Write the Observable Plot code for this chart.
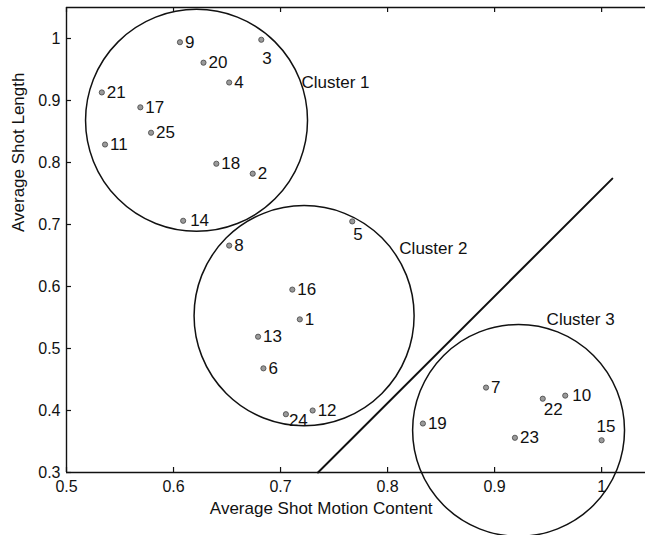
<!DOCTYPE html>
<html>
<head>
<meta charset="utf-8">
<script src="https://cdn.jsdelivr.net/npm/d3@7"></script>
<script src="https://cdn.jsdelivr.net/npm/@observablehq/plot@0.6"></script>
<style>
html, body { margin: 0; padding: 0; background: #fff; overflow: hidden; }
#chart svg { display: block; }
</style>
</head>
<body>
<div id="chart"></div>
<script>
// ---- data ----
const shotIds = [1,2,3,4,5,6,7,8,9,10,11,12,13,14,15,16,17,18,19,20,21,22,23,24,25];
const shotMotion = [0.718,0.674,0.682,0.652,0.767,0.684,0.892,0.652,0.606,0.966,0.536,0.730,0.679,0.609,1.000,0.711,0.569,0.640,0.833,0.628,0.533,0.945,0.919,0.705,0.579];
const shotLength = [0.547,0.782,0.998,0.929,0.705,0.468,0.437,0.666,0.994,0.424,0.829,0.400,0.519,0.706,0.352,0.595,0.889,0.798,0.379,0.961,0.913,0.419,0.356,0.394,0.848];

const clusterNames = ["Cluster 1", "Cluster 2", "Cluster 3"];
const clusterCenterX = [0.6215, 0.722, 0.9224];
const clusterCenterY = [0.868, 0.553, 0.368];
const clusterRadius = [0.1037, 0.1028, 0.099]; // in x-axis units
const clusterLabelX = [0.7196, 0.811, 0.9486];
const clusterLabelY = [0.929, 0.661, 0.547];

const boundaryX = [0.735, 1.010];
const boundaryY = [0.300, 0.774];

const xTicks = [0.5, 0.6, 0.7, 0.8, 0.9, 1.0];
const xTickLabels = ["0.5", "0.6", "0.7", "0.8", "0.9", "1"];
const yTicks = [0.3, 0.4, 0.5, 0.6, 0.7, 0.8, 0.9, 1.0];
const yTickLabels = ["0.3", "0.4", "0.5", "0.6", "0.7", "0.8", "0.9", "1"];

const xTitle = "Average Shot Motion Content";
const yTitle = "Average Shot Length";

// ---- layout ----
const W = 645, H = 535;
const mL = 66, mR = 0, mT = 7, mB = 63;
const xDomain = [0.5, 1.041], yDomain = [0.3, 1.05];
const plotW = W - mL - mR, plotH = H - mT - mB;
const pxX = (xDomain[1] - xDomain[0]) / plotW;
const pxY = (yDomain[1] - yDomain[0]) / plotH;
const tickLen = 5;
const font = "'Liberation Sans', Arial, Helvetica, sans-serif";

const points = shotIds.map((id, i) => ({id, x: shotMotion[i], y: shotLength[i]}));
const clusters = clusterNames.map((name, i) => ({
  name, cx: clusterCenterX[i], cy: clusterCenterY[i], r: clusterRadius[i],
  lx: clusterLabelX[i], ly: clusterLabelY[i]
}));
const boundary = boundaryX.map((x, i) => ({x, y: boundaryY[i]}));

// label placement (offsets in pixels)
const labelOffsets = {3: [1, 19], 5: [1, 13], 22: [1, 11], 15: [-5, -14], 24: [3, 6], 14: [7, 0], 10: [7, 0]};
const defaultOffset = [5, 0];

const labelMarks = [];
const groups = new Map();
for (const p of points) {
  const off = labelOffsets[p.id] || defaultOffset;
  const key = off.join(",");
  if (!groups.has(key)) groups.set(key, {off, items: []});
  groups.get(key).items.push(p);
}
for (const {off, items} of groups.values()) {
  labelMarks.push(Plot.text(items, {
    x: "x", y: "y", text: d => String(d.id),
    textAnchor: "start", dx: off[0], dy: off[1],
    fontSize: 17, fill: "#111"
  }));
}

const chart = Plot.plot({
  width: W, height: H,
  marginLeft: mL, marginRight: mR, marginTop: mT, marginBottom: mB,
  style: {fontFamily: font, background: "#fff", color: "#111", overflow: "visible"},
  x: {domain: xDomain, axis: null},
  y: {domain: yDomain, axis: null},
  r: {type: "linear", domain: [0, xDomain[1] - xDomain[0]], range: [0, plotW]},
  marks: [
    // axes box (left, bottom, top)
    Plot.ruleX([xDomain[0]], {stroke: "#111", strokeWidth: 1.4}),
    Plot.ruleY([yDomain[0]], {stroke: "#111", strokeWidth: 1.4}),
    Plot.ruleY([yDomain[1]], {stroke: "#111", strokeWidth: 1.4}),
    // inward ticks
    Plot.ruleX(xTicks, {x: d => d, y1: yDomain[0], y2: yDomain[0] + tickLen * pxY, stroke: "#111", strokeWidth: 1.2}),
    Plot.ruleX(xTicks, {x: d => d, y1: yDomain[1], y2: yDomain[1] - tickLen * pxY, stroke: "#111", strokeWidth: 1.2}),
    Plot.ruleY(yTicks, {y: d => d, x1: xDomain[0], x2: xDomain[0] + tickLen * pxX, stroke: "#111", strokeWidth: 1.2}),
    // tick labels
    Plot.text(xTicks, {x: d => d, frameAnchor: "bottom", text: (d, i) => xTickLabels[i], dy: 19, fontSize: 16, fill: "#111"}),
    Plot.text(yTicks, {y: d => d, frameAnchor: "left", text: (d, i) => yTickLabels[i], textAnchor: "end", dx: -6, fontSize: 16, fill: "#111"}),
    // axis titles
    Plot.text([xTitle], {x: () => 0.738, frameAnchor: "bottom", text: d => d, dy: 41, fontSize: 17, fill: "#111"}),
    Plot.text([yTitle], {frameAnchor: "left", text: d => d, rotate: -90, dx: -48, dy: -8, fontSize: 17, fill: "#111"}),
    // cluster circles
    Plot.dot(clusters, {x: "cx", y: "cy", r: "r", fill: "none", stroke: "#111", strokeWidth: 1.5}),
    // separating line
    Plot.line(boundary, {x: "x", y: "y", stroke: "#111", strokeWidth: 2}),
    // cluster labels
    Plot.text(clusters, {x: "lx", y: "ly", text: "name", textAnchor: "start", fontSize: 17, fill: "#111"}),
    // shots
    Plot.dot(points, {x: "x", y: "y", r: 2.6, fill: "#9a9a9a", stroke: "#444", strokeWidth: 0.8}),
    ...labelMarks
  ]
});
document.getElementById("chart").appendChild(chart);
</script>
</body>
</html>
